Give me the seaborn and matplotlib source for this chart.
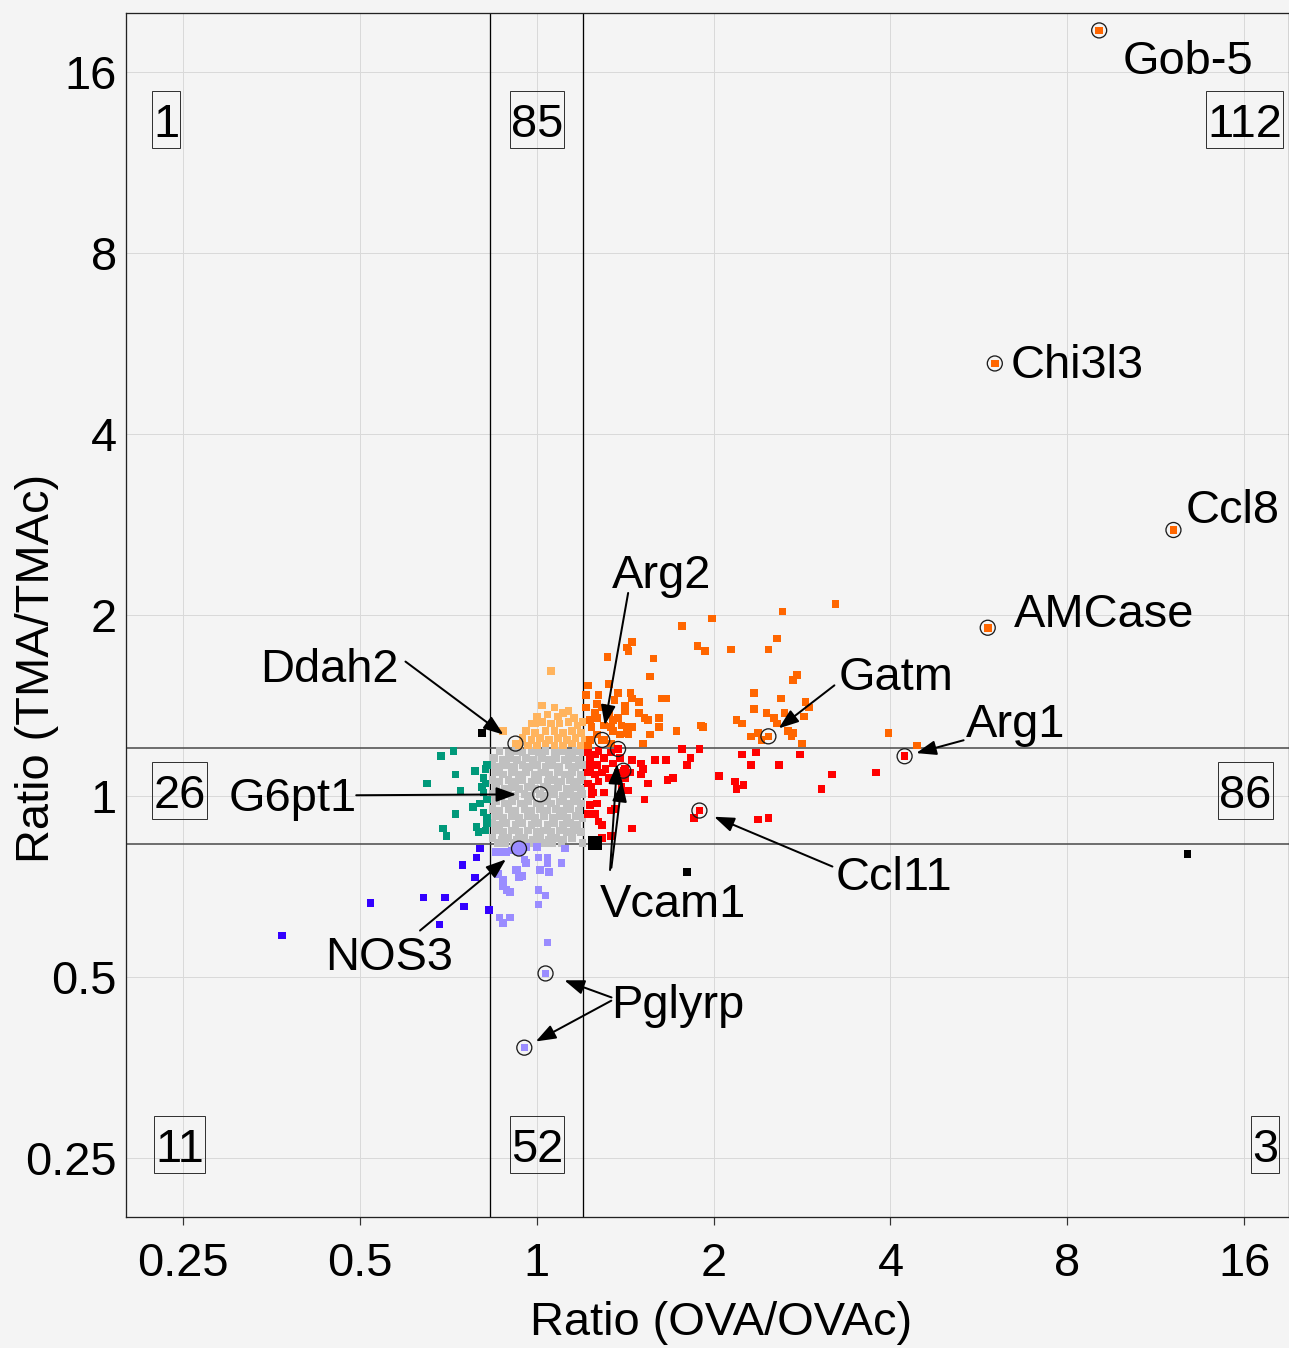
import matplotlib
matplotlib.use("Agg")
import matplotlib.pyplot as plt
from matplotlib.patches import Rectangle
from matplotlib.ticker import NullLocator
from matplotlib.transforms import IdentityTransform
import pandas as pd
import seaborn as sns

sns.set_theme(style="white")
plt.rcParams["font.family"] = ["Liberation Sans", "DejaVu Sans"]

# ---------------------------------------------------------------------------
# log2 ratios per gene: (log2 OVA/OVAc, log2 TMA/TMAc)
# ---------------------------------------------------------------------------
unchanged_log2 = [
    (-0.21, 0.25), (-0.16, 0.24), (-0.12, 0.25), (-0.08, 0.24), (-0.03, 0.25), (0.01, 0.24),
    (0.05, 0.25), (0.10, 0.24), (0.14, 0.25), (0.18, 0.24), (0.22, 0.25), (0.26, 0.24),
    (-0.24, 0.21), (-0.19, 0.20), (-0.15, 0.21), (-0.11, 0.20), (-0.06, 0.21), (-0.02, 0.20),
    (0.03, 0.21), (0.07, 0.20), (0.11, 0.21), (0.16, 0.20), (0.20, 0.21), (0.24, 0.20),
    (-0.25, 0.17), (-0.21, 0.16), (-0.17, 0.17), (-0.13, 0.16), (-0.08, 0.17), (-0.04, 0.16),
    (0.00, 0.17), (0.05, 0.16), (0.09, 0.17), (0.13, 0.16), (0.18, 0.17), (0.22, 0.16), (0.26, 0.17),
    (-0.23, 0.13), (-0.19, 0.12), (-0.14, 0.13), (-0.10, 0.12), (-0.06, 0.13), (-0.01, 0.12),
    (0.03, 0.13), (0.07, 0.12), (0.12, 0.13), (0.16, 0.12), (0.20, 0.13), (0.25, 0.12),
    (-0.25, 0.09), (-0.21, 0.08), (-0.16, 0.09), (-0.12, 0.08), (-0.08, 0.09), (-0.03, 0.08),
    (0.01, 0.09), (0.06, 0.08), (0.10, 0.09), (0.14, 0.08), (0.19, 0.09), (0.23, 0.08), (0.26, 0.09),
    (-0.23, 0.05), (-0.18, 0.04), (-0.14, 0.05), (-0.10, 0.04), (-0.05, 0.05), (-0.01, 0.04),
    (0.04, 0.05), (0.08, 0.04), (0.12, 0.05), (0.17, 0.04), (0.21, 0.05), (0.25, 0.04),
    (-0.25, 0.01), (-0.20, 0.00), (-0.16, 0.01), (-0.12, 0.00), (-0.07, 0.01), (-0.03, 0.00),
    (0.02, 0.01), (0.06, 0.00), (0.10, 0.01), (0.15, 0.00), (0.19, 0.01), (0.23, 0.00), (0.26, 0.01),
    (-0.23, -0.03), (-0.18, -0.04), (-0.14, -0.03), (-0.09, -0.04), (-0.05, -0.03), (0.00, -0.04),
    (0.04, -0.03), (0.08, -0.04), (0.13, -0.03), (0.17, -0.04), (0.21, -0.03), (0.25, -0.04),
    (-0.25, -0.07), (-0.21, -0.08), (-0.16, -0.07), (-0.12, -0.08), (-0.07, -0.07), (-0.03, -0.08),
    (0.02, -0.07), (0.06, -0.08), (0.11, -0.07), (0.15, -0.08), (0.19, -0.07), (0.24, -0.08),
    (-0.23, -0.11), (-0.19, -0.12), (-0.14, -0.11), (-0.10, -0.12), (-0.05, -0.11), (-0.01, -0.12),
    (0.04, -0.11), (0.09, -0.12), (0.13, -0.11), (0.17, -0.12), (0.22, -0.11), (0.26, -0.12),
    (-0.25, -0.15), (-0.21, -0.16), (-0.17, -0.15), (-0.12, -0.16), (-0.08, -0.15), (-0.03, -0.16),
    (0.01, -0.15), (0.06, -0.16), (0.10, -0.15), (0.15, -0.16), (0.19, -0.15), (0.23, -0.16),
    (-0.23, -0.19), (-0.19, -0.20), (-0.14, -0.19), (-0.10, -0.20), (-0.05, -0.19), (0.00, -0.20),
    (0.04, -0.19), (0.08, -0.20), (0.13, -0.19), (0.17, -0.20), (0.21, -0.19), (0.25, -0.20),
    (-0.25, -0.23), (-0.20, -0.24), (-0.16, -0.23), (-0.11, -0.24), (-0.07, -0.23), (-0.02, -0.24),
    (0.02, -0.23), (0.07, -0.24), (0.11, -0.23), (0.15, -0.24), (0.20, -0.23),
    (-0.22, -0.26), (-0.18, -0.26), (-0.13, -0.26), (-0.08, -0.26), (-0.04, -0.26), (0.01, -0.26),
    (0.05, -0.26), (0.09, -0.26), (0.14, -0.26), (0.26, -0.26),
]

tma_up_log2 = [
    (0.08, 0.69), (-0.19, 0.36), (0.03, 0.50), (0.10, 0.49), (0.15, 0.46), (0.06, 0.45),
    (-0.01, 0.40), (0.21, 0.43), (0.26, 0.41), (0.00, 0.44), (0.12, 0.44), (0.18, 0.47),
    (-0.03, 0.40), (0.03, 0.41), (0.08, 0.40), (0.13, 0.40), (0.18, 0.41), (0.23, 0.39),
    (-0.06, 0.36), (-0.01, 0.35), (0.05, 0.36), (0.10, 0.36), (0.15, 0.35), (0.20, 0.36), (0.25, 0.35),
    (-0.08, 0.32), (-0.03, 0.31), (0.02, 0.32), (0.07, 0.31), (0.12, 0.32), (0.17, 0.31),
    (0.22, 0.32), (0.27, 0.31), (-0.10, 0.28), (-0.05, 0.28), (0.00, 0.28), (0.05, 0.29),
    (0.10, 0.28), (0.15, 0.28), (0.20, 0.29), (0.25, 0.28),
]

ova_down_log2 = [
    (-0.54, 0.22), (-0.47, 0.25), (-0.62, 0.07), (-0.46, 0.12), (-0.43, 0.03), (-0.35, 0.14),
    (-0.46, -0.10), (-0.53, -0.18), (-0.51, -0.22), (-0.36, -0.06), (-0.34, -0.17), (-0.33, -0.20),
    (-0.29, 0.15), (-0.28, 0.17), (-0.30, 0.10), (-0.31, 0.05), (-0.30, 0.02), (-0.28, -0.02),
    (-0.32, -0.04), (-0.28, -0.12), (-0.28, -0.15), (-0.29, -0.19), (-0.30, -0.09), (-0.29, 0.07),
]

tma_down_log2 = [
    (-0.23, -0.31), (-0.21, -0.31), (-0.17, -0.31), (-0.14, -0.30), (-0.06, -0.28), (0.00, -0.28),
    (0.01, -0.34), (0.06, -0.34), (0.16, -0.29), (0.14, -0.37), (0.06, -0.37), (0.02, -0.41),
    (0.07, -0.42), (-0.06, -0.37), (-0.12, -0.41), (-0.08, -0.44), (-0.22, -0.43), (-0.19, -0.46),
    (-0.19, -0.50), (-0.15, -0.53), (0.01, -0.52), (0.05, -0.55), (0.01, -0.60), (-0.21, -0.67),
    (-0.19, -0.70), (-0.15, -0.67), (0.06, -0.81), (-0.10, -0.45), (-0.07, -0.35), (-0.11, -0.41),
    (-0.17, -0.52),
]

both_down_log2 = [
    (-1.44, -0.77), (-0.94, -0.59), (-0.64, -0.56), (-0.52, -0.56), (-0.55, -0.71), (-0.41, -0.61),
    (-0.42, -0.38), (-0.35, -0.45), (-0.34, -0.34), (-0.32, -0.29), (-0.27, -0.63),
]

ova_up_log2 = [
    (0.82, 0.26), (0.92, 0.26), (0.87, 0.21), (0.85, 0.17), (1.16, 0.23), (1.24, 0.24),
    (1.21, 0.17), (1.37, 0.17), (1.49, 0.23), (1.03, 0.11), (1.12, 0.08), (1.17, 0.06),
    (1.13, 0.04), (1.67, 0.12), (1.61, 0.04), (1.92, 0.13), (0.89, -0.12), (1.25, -0.13),
    (1.31, -0.12), (0.67, 0.20), (0.73, 0.20), (0.59, 0.18), (0.60, 0.15), (0.54, 0.20),
    (0.59, 0.12), (0.63, 0.07), (0.52, 0.03), (0.74, 0.09), (0.77, 0.10), (0.61, -0.02),
    (0.54, -0.18), (0.31, 0.05), (0.32, 0.02), (0.30, -0.05), (0.34, -0.04), (0.35, -0.14),
    (0.37, -0.16), (0.42, -0.08), (0.44, -0.07), (0.42, -0.22), (0.37, -0.23), (0.48, 0.05),
    (0.51, 0.03), (0.29, 0.07), (0.30, 0.16), (0.29, 0.24), (0.33, 0.23), (0.35, 0.25),
    (0.38, 0.21), (0.42, 0.24), (0.30, 0.20), (0.34, 0.17), (0.39, 0.15), (0.43, 0.18),
    (0.47, 0.21), (0.29, 0.13), (0.33, 0.12), (0.37, 0.13), (0.41, 0.10), (0.46, 0.13),
    (0.50, 0.15), (0.53, 0.13), (0.50, 0.10), (0.35, 0.08), (0.31, 0.01), (0.33, -0.10),
    (0.29, -0.10), (0.38, 0.02),
]

both_up_log2 = [
    (1.69, 1.06), (1.39, 1.02), (0.99, 0.98), (0.82, 0.94), (1.36, 0.87), (0.91, 0.83),
    (0.95, 0.80), (1.10, 0.81), (1.31, 0.81), (1.47, 0.67), (1.45, 0.64), (1.23, 0.57),
    (1.38, 0.54), (1.52, 0.52), (1.54, 0.49), (1.23, 0.48), (1.30, 0.46), (1.40, 0.46),
    (1.51, 0.44), (1.13, 0.42), (1.16, 0.40), (1.34, 0.43), (1.36, 0.40), (0.93, 0.39),
    (1.42, 0.36), (1.45, 0.35), (1.25, 0.35), (1.21, 0.33), (1.27, 0.31), (1.44, 0.33),
    (1.50, 0.29), (0.54, 0.85), (0.51, 0.82), (0.52, 0.80), (0.40, 0.77), (0.66, 0.76),
    (0.64, 0.66), (0.29, 0.61), (0.41, 0.62), (0.28, 0.56), (0.46, 0.57), (0.53, 0.57),
    (0.54, 0.54), (0.58, 0.52), (0.71, 0.54), (0.73, 0.54), (0.50, 0.50), (0.34, 0.51),
    (0.28, 0.49), (0.50, 0.47), (0.61, 0.43), (0.63, 0.42), (0.69, 0.43), (0.52, 0.38),
    (0.54, 0.38), (0.69, 0.38), (0.79, 0.36), (0.94, 0.38), (0.64, 0.34), (0.60, 0.29),
    (0.52, 0.34), (0.51, 0.35), (0.30, 0.42), (0.33, 0.46), (0.43, 0.42), (0.42, 0.38),
    (0.43, 0.36), (1.99, 0.35), (2.15, 0.28), (0.31, 0.38), (0.34, 0.34), (0.38, 0.31),
    (0.30, 0.31), (0.34, 0.43), (0.38, 0.39), (0.41, 0.46), (0.47, 0.34), (0.46, 0.43),
    (0.29, 0.28), (0.42, 0.29), (0.48, 0.39), (0.37, 0.49), (0.58, 0.46), (0.44, 0.53),
    (0.35, 0.56),
]

discordant_log2 = [(-0.31, 0.35), (0.85, -0.42), (3.68, -0.32)]
discordant_large_log2 = [(0.33, -0.26)]

# highlighted genes (Vcam1 and Pglyrp have two probes each)
gene_names = ["Gob-5", "Chi3l3", "Ccl8", "AMCase", "Gatm", "Arg1", "Ccl11", "Arg2",
              "Vcam1", "Vcam1", "Ddah2", "G6pt1", "NOS3", "Pglyrp", "Pglyrp"]
gene_log2 = [(3.18, 4.23), (2.59, 2.39), (3.60, 1.47), (2.55, 0.93), (1.31, 0.33),
             (2.08, 0.22), (0.92, -0.08), (0.37, 0.31), (0.46, 0.26), (0.49, 0.14),
             (-0.12, 0.29), (0.02, 0.01), (-0.10, -0.29), (0.05, -0.98), (-0.07, -1.39)]
gene_groups = ["both_up", "both_up", "both_up", "both_up", "both_up", "ova_up", "ova_up",
               "both_up", "ova_up", "ova_up", "tma_up", "unchanged", "tma_down",
               "tma_down", "tma_down"]

quadrant_counts = ["1", "85", "112", "26", "86", "11", "52", "3"]

tick_values = [0.25, 0.5, 1, 2, 4, 8, 16]
tick_labels = ["0.25", "0.5", "1", "2", "4", "8", "16"]
cutoff = 1.2

palette = {
    "unchanged": "#c0c0c0",
    "tma_up": "#ffb45e",
    "ova_down": "#00997a",
    "tma_down": "#9a8cff",
    "both_down": "#3300ff",
    "ova_up": "#ff0000",
    "both_up": "#ff6600",
    "discordant": "#000000",
}

# ---------------------------------------------------------------------------
# assemble long table
# ---------------------------------------------------------------------------
group_lists = [
    ("unchanged", unchanged_log2), ("tma_up", tma_up_log2), ("ova_down", ova_down_log2),
    ("tma_down", tma_down_log2), ("both_down", both_down_log2), ("ova_up", ova_up_log2),
    ("both_up", both_up_log2), ("discordant", discordant_log2),
]
records = []
for grp, pts in group_lists:
    for lx, ly in pts:
        records.append((grp, 2.0 ** lx, 2.0 ** ly))
for grp, (lx, ly) in zip(gene_groups, gene_log2):
    records.append((grp, 2.0 ** lx, 2.0 ** ly))
df = pd.DataFrame(records, columns=["group", "ova", "tma"])

genes = pd.DataFrame({
    "name": gene_names,
    "ova": [2.0 ** p[0] for p in gene_log2],
    "tma": [2.0 ** p[1] for p in gene_log2],
})
big = pd.DataFrame({"ova": [2.0 ** p[0] for p in discordant_large_log2],
                    "tma": [2.0 ** p[1] for p in discordant_large_log2]})

# ---------------------------------------------------------------------------
# figure
# ---------------------------------------------------------------------------
W, H, DPI = 1289, 1348, 72
bg = "#f4f4f4"
fig = plt.figure(figsize=(W / DPI, H / DPI), dpi=DPI)
fig.patch.set_facecolor(bg)
ax = fig.add_axes([126 / W, 131 / H, 1163 / W, 1204 / H])
ax.set_facecolor(bg)

ax.set_xscale("log", base=2)
ax.set_yscale("log", base=2)
ax.set_xlim(0.2, 19.07)
ax.set_ylim(0.1995, 20.06)

ax.grid(True, which="major", color="#d9d9d9", lw=1.0)
ax.set_axisbelow(True)

for v in (1 / cutoff, cutoff):
    ax.axvline(v, color="#000000", lw=1.3, zorder=1.5)
    ax.axhline(v, color="#505050", lw=1.6, zorder=1.5)

sns.scatterplot(data=df, x="ova", y="tma", hue="group", palette=palette, marker="s",
                s=58, linewidth=0, legend=False, ax=ax, zorder=2)
sns.scatterplot(data=big, x="ova", y="tma", color="#000000", marker="s", s=210,
                linewidth=0, legend=False, ax=ax, zorder=2)

# circles around highlighted genes
face = ["none"] * len(gene_names)
face[gene_names.index("NOS3")] = palette["tma_down"]
ax.scatter(genes["ova"], genes["tma"], s=225, marker="o", facecolors=face,
           edgecolors="#1a1a1a", linewidths=1.3, zorder=3)

# gene labels: offset in pixels from the gene's point (left, baseline)
label_offsets = {0: (23, -44), 1: (16, -15), 2: (12, 7), 3: (26, 1), 4: (70, 46),
                 5: (61, 19), 6: (136, -79), 7: (10, 152), 8: (-18, -168),
                 10: (-255, 62), 11: (-312, -17), 12: (-194, -121), 13: (66, -45)}
# arrows: tail offset in pixels from the gene's point, gap at the head
arrow_specs = {4: ((66, 51), 13), 5: ((59, 16), 12), 6: ((133, -56), 16),
               7: ((26, 147), 15), 8: ((-8, -121), 15), 9: ((-12, -97), 11),
               10: ((-110, 82), 15), 11: ((-184, -1), 24), 12: ((-99, -82), 17),
               13: ((66, -24), 20), 14: ((87, 47), 13)}

FS = 47
for i, (dx, dy) in label_offsets.items():
    ax.annotate(gene_names[i], xy=(genes["ova"][i], genes["tma"][i]), xytext=(dx, dy),
                textcoords="offset pixels", ha="left", va="baseline", fontsize=FS,
                color="black", zorder=5)
for i, ((sx, sy), gap) in arrow_specs.items():
    ax.annotate("", xy=(genes["ova"][i], genes["tma"][i]), xytext=(sx, sy),
                textcoords="offset pixels",
                arrowprops=dict(arrowstyle="-|>,head_length=0.6,head_width=0.22",
                                mutation_scale=28, color="black", lw=2,
                                shrinkA=0, shrinkB=gap), zorder=5)

# quadrant counts (axes fraction, centred, baseline)
count_pos = [(0.0344, 0.897), (0.3534, 0.897), (0.9617, 0.897),
             (0.0460, 0.3397), (0.9626, 0.3397),
             (0.0460, 0.0457), (0.3534, 0.0457), (0.9794, 0.0457)]
count_texts = []
for label, (xf, yf) in zip(quadrant_counts, count_pos):
    count_texts.append(ax.text(xf, yf, label, transform=ax.transAxes, ha="center",
                               va="baseline", fontsize=FS, color="black", zorder=5))

# axes decoration
ax.xaxis.set_minor_locator(NullLocator())
ax.yaxis.set_minor_locator(NullLocator())
ax.set_xticks(tick_values)
ax.set_xticklabels(tick_labels)
ax.set_yticks(tick_values)
ax.set_yticklabels(tick_labels)
ax.tick_params(axis="x", length=8, width=1.2, color="#333333", pad=17,
               labelsize=FS, labelcolor="black", direction="out", bottom=True)
ax.tick_params(axis="y", length=0, pad=9, labelsize=FS, labelcolor="black", left=True)
for s in ax.spines.values():
    s.set_color("#222222")
    s.set_linewidth(1.3)

ax.set_xlabel("Ratio (OVA/OVAc)", fontsize=FS, color="black")
ax.set_ylabel("Ratio (TMA/TMAc)", fontsize=FS, color="black")
ax.xaxis.set_label_coords(0.512, -0.0698)
ax.yaxis.set_label_coords(-0.0576, 0.456)

# frames around quadrant counts
fig.canvas.draw()
renderer = fig.canvas.get_renderer()
for t in count_texts:
    bb = t.get_window_extent(renderer)
    fig.add_artist(Rectangle((bb.x0 - 1, bb.y0 - 1), bb.width + 2, bb.height + 13,
                             transform=IdentityTransform(), fill=False,
                             ec="#333333", lw=1.0))

fig.savefig("out.png", dpi=DPI, facecolor=bg)
